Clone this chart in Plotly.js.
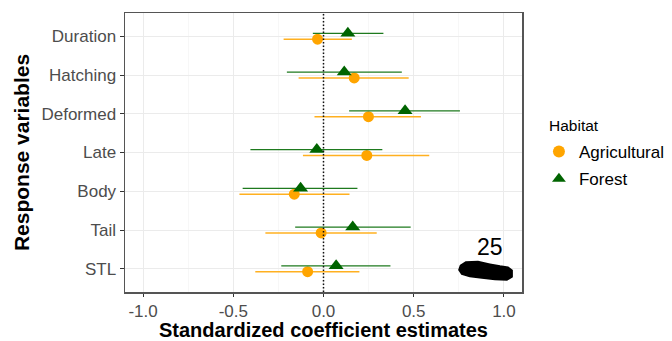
<!DOCTYPE html>
<html>
<head>
<meta charset="utf-8">
<script src="https://cdn.plot.ly/plotly-3.0.1.min.js"></script>
<style>html,body{margin:0;padding:0;background:#fff;}#chart{width:672px;height:341px;}</style>
</head>
<body>
<div id="chart"></div>
<script>
// ---- data ----
const categories = ['Duration','Hatching','Deformed','Late','Body','Tail','STL'];
const agriEst   = [-0.033, 0.170, 0.249, 0.240, -0.162, -0.013, -0.088];
const agriLow   = [-0.221, -0.138, -0.050, -0.114, -0.466, -0.322, -0.378];
const agriHigh  = [0.157, 0.472, 0.540, 0.586, 0.144, 0.295, 0.199];
const forestEst  = [0.135, 0.115, 0.452, -0.037, -0.127, 0.162, 0.070];
const forestLow  = [-0.059, -0.203, 0.142, -0.405, -0.448, -0.157, -0.234];
const forestHigh = [0.332, 0.434, 0.756, 0.326, 0.188, 0.483, 0.371];
const xTicks = [-1.0, -0.5, 0.0, 0.5, 1.0];
const xTickLabels = ['-1.0','-0.5','0.0','0.5','1.0'];
const annotText = '25';
const legendTitle = 'Habitat';
// redaction blob outline (data coords)
const blobX = [0.760,0.789,0.856,0.922,0.978,1.022,1.044,1.044,1.016,0.950,0.878,0.811,0.767,0.752];
const blobY = [1.082,1.165,1.178,1.113,1.062,1.036,0.958,0.793,0.716,0.729,0.767,0.809,0.867,0.974];

const n = categories.length;
const yBase = categories.map((c,i)=> n - i);
const dodge = 0.075;
const yAgri = yBase.map(v=> v - dodge);
const yForest = yBase.map(v=> v + dodge);

const FONT = 'Liberation Sans, Arial, sans-serif';
const ORANGE = '#FFA500';
const GREEN = '#006400';

const traces = [
  {
    type:'scatter', mode:'markers', name:'Agricultural', legendgroup:'a',
    x: agriEst, y: yAgri,
    marker:{symbol:'circle', size:11, color:ORANGE},
    error_x:{type:'data', symmetric:false,
      array: agriHigh.map((h,i)=>h-agriEst[i]),
      arrayminus: agriEst.map((e,i)=>e-agriLow[i]),
      color:'#FFB020', thickness:1.5, width:0},
    cliponaxis:false
  },
  {
    type:'scatter', mode:'markers', name:'Forest', legendgroup:'b',
    x: forestEst, y: yForest,
    marker:{symbol:'triangle-up', size:13, color:GREEN},
    error_x:{type:'data', symmetric:false,
      array: forestHigh.map((h,i)=>h-forestEst[i]),
      arrayminus: forestEst.map((e,i)=>e-forestLow[i]),
      color:'#1E7A1E', thickness:1.3, width:0},
    cliponaxis:false
  }
];

let blobPath = 'M ' + blobX[0] + ',' + blobY[0];
for (let i=1;i<blobX.length;i++) blobPath += ' L ' + blobX[i] + ',' + blobY[i];
blobPath += ' Z';

const layout = {
  width:672, height:341,
  margin:{l:124.5, r:150, t:13, b:49.3, autoexpand:false},
  paper_bgcolor:'#fff', plot_bgcolor:'#fff',
  font:{family:FONT, color:'#4D4D4D'},
  showlegend:true,
  xaxis:{
    range:[-1.1,1.1], tickvals:xTicks, ticktext:xTickLabels,
    tickfont:{size:17, color:'#4D4D4D', family:FONT},
    ticks:'outside', ticklen:3, tickcolor:'#333', tickwidth:1,
    showgrid:true, gridcolor:'#EBEBEB', gridwidth:1,
    minor:{dtick:0.25, tick0:0.25, showgrid:true, gridcolor:'#F2F2F2', gridwidth:0.6},
    zeroline:false, showline:true, mirror:true, linecolor:'#555', linewidth:1.5,
    automargin:false
  },
  yaxis:{
    range:[0.4, n+0.6], tickvals:yBase, ticktext:categories,
    tickfont:{size:17, color:'#4D4D4D', family:FONT},
    ticks:'outside', ticklen:4, tickcolor:'#333', tickwidth:1,
    showgrid:true, gridcolor:'#EBEBEB', gridwidth:1,
    zeroline:false, showline:true, mirror:true, linecolor:'#555', linewidth:1.5,
    automargin:false,
    title:{text:'Response variables', font:{size:21, color:'#000', family:FONT, weight:'bold'}, standoff:6}
  },
  legend:{
    xref:'container', yref:'container',
    x:0.802, xanchor:'left', y:0.607, yanchor:'top',
    font:{size:17, color:'#000', family:FONT},
    bgcolor:'rgba(0,0,0,0)', tracegroupgap:2, itemsizing:'constant'
  },
  shapes:[
    {type:'line', xref:'x', yref:'paper', x0:0, x1:0, y0:0, y1:1,
     line:{color:'#111', width:1.5, dash:'1.5px,2px'}, layer:'above'},
    {type:'path', xref:'x', yref:'y', path:blobPath, fillcolor:'#000', line:{color:'#000', width:2}}
  ],
  annotations:[
    {xref:'x', yref:'y', x:0.922, y:1.55, text:annotText, showarrow:false,
     font:{size:23, color:'#000', family:FONT}},
    {xref:'paper', yref:'paper', x:0.5, y:-0.137, yanchor:'middle', xanchor:'center',
     text:'Standardized coefficient estimates', showarrow:false,
     font:{size:20, color:'#000', family:FONT, weight:'bold'}},
    {xref:'paper', yref:'paper', x:(547-124.5)/397.5, y:(291.7-125)/278.7, xanchor:'left', yanchor:'middle',
     text:legendTitle, showarrow:false, font:{size:15.5, color:'#000', family:FONT}}
  ]
};

Plotly.newPlot('chart', traces, layout, {displayModeBar:false, staticPlot:true});
</script>
</body>
</html>
